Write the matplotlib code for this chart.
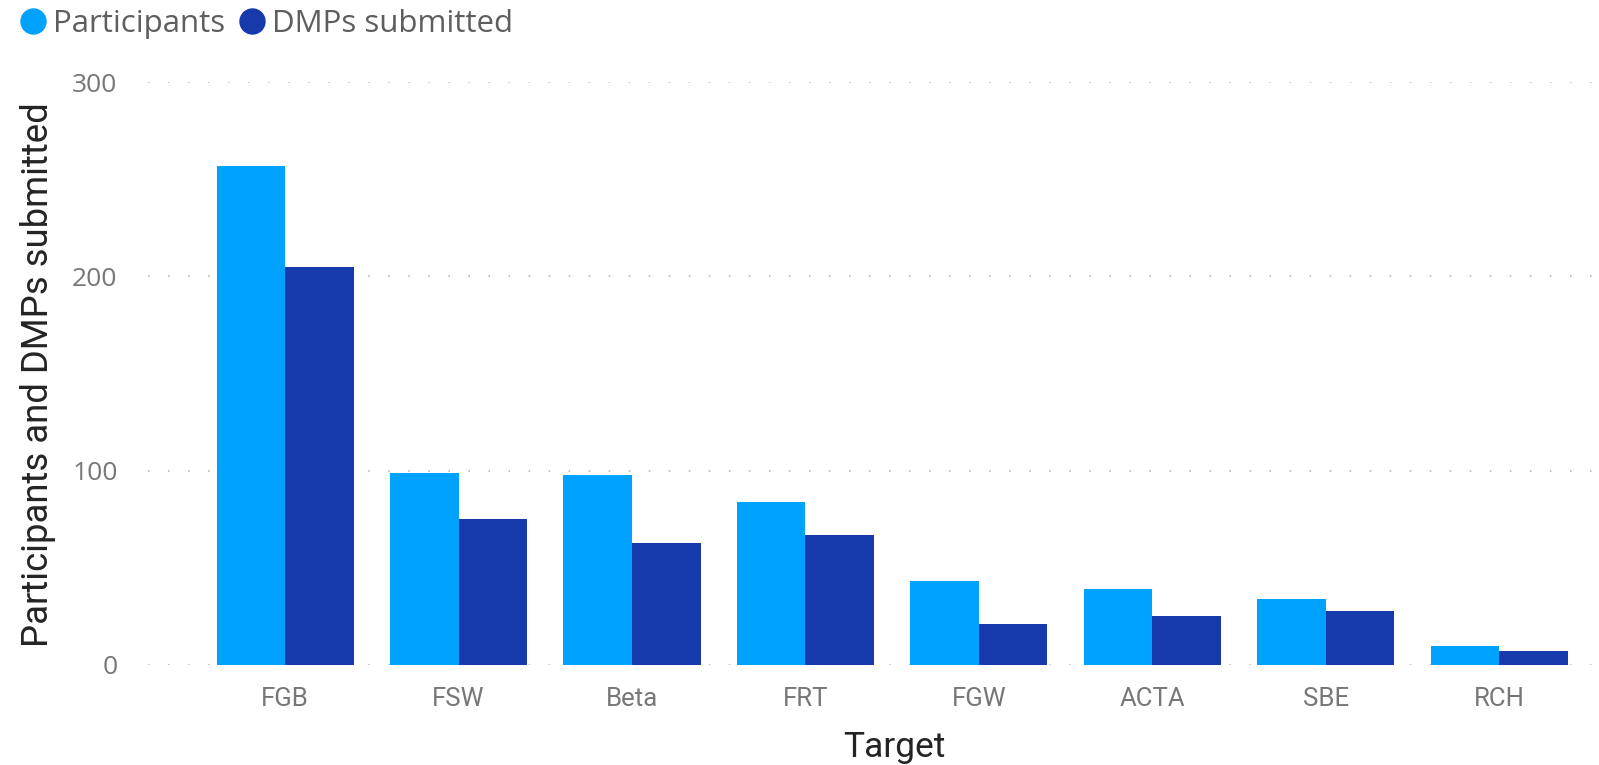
import matplotlib
matplotlib.use("Agg")
import matplotlib.pyplot as plt
import numpy as np
from matplotlib.lines import Line2D

# ── Data ──────────────────────────────────────────────────────────────────
targets      = ["FGB", "FSW", "Beta", "FRT", "FGW", "ACTA", "SBE", "RCH"]
participants = [257, 99, 98, 84, 43, 39, 34, 10]
dmps         = [205, 75, 63, 67, 21, 25, 28, 7]
y_ticks      = [0, 100, 200, 300]

C_PART = "#00A2FF"
C_DMP  = "#1639AC"
TICK_C = "#777777"
TITLE_C = "#252423"

plt.rcParams["font.family"] = ["Open Sans", "DejaVu Sans"]

fig = plt.figure(figsize=(15.99, 7.65), dpi=100)
ax = fig.add_axes([148 / 1599, 1 - 665 / 765, (1593 - 148) / 1599, (665 - 82) / 765])

x = np.arange(len(targets))
w = 0.395
ax.bar(x - w / 2, participants, width=w, color=C_PART, zorder=2)
ax.bar(x + w / 2, dmps, width=w, color=C_DMP, zorder=2)

ax.set_ylim(0, 300)
ax.set_xlim(-0.79, 7.54)
ax.set_yticks(y_ticks)
ax.set_xticks(x)
ax.set_xticklabels(targets)

for s in ax.spines.values():
    s.set_visible(False)
ax.tick_params(axis="both", length=0, colors=TICK_C)
ax.tick_params(axis="y", pad=22, labelsize=19)
ax.tick_params(axis="x", pad=16, labelsize=18.5)
for lab in ax.get_xticklabels():
    lab.set_fontfamily(["Roboto", "DejaVu Sans"])

ax.yaxis.grid(True, color="#C0C0C0", linewidth=1.4, linestyle=(0, (0.8, 9.5)), zorder=0)
ax.set_axisbelow(True)

fig.text(38 / 1599, 0.51, "Participants and DMPs submitted", rotation=90,
         ha="center", va="center", fontsize=26.3, color=TITLE_C,
         family=["Roboto", "DejaVu Sans"])
fig.text(894 / 1599, 1 - 748 / 765, "Target", ha="center", va="center",
         fontsize=25.5, color=TITLE_C, family=["Roboto", "DejaVu Sans"])

handles = [
    Line2D([], [], marker="o", linestyle="", markersize=18, color=C_PART),
    Line2D([], [], marker="o", linestyle="", markersize=18, color=C_DMP),
]
leg = fig.legend(handles, ["Participants", "DMPs submitted"], loc="center left",
                 bbox_to_anchor=(3 / 1599, 1 - 24 / 765), ncol=2, frameon=False,
                 fontsize=22.5, handletextpad=0.1, columnspacing=0.3,
                 handlelength=1.1, borderaxespad=0)
for t in leg.get_texts():
    t.set_color("#605E5C")

fig.savefig("out.png", dpi=100)
